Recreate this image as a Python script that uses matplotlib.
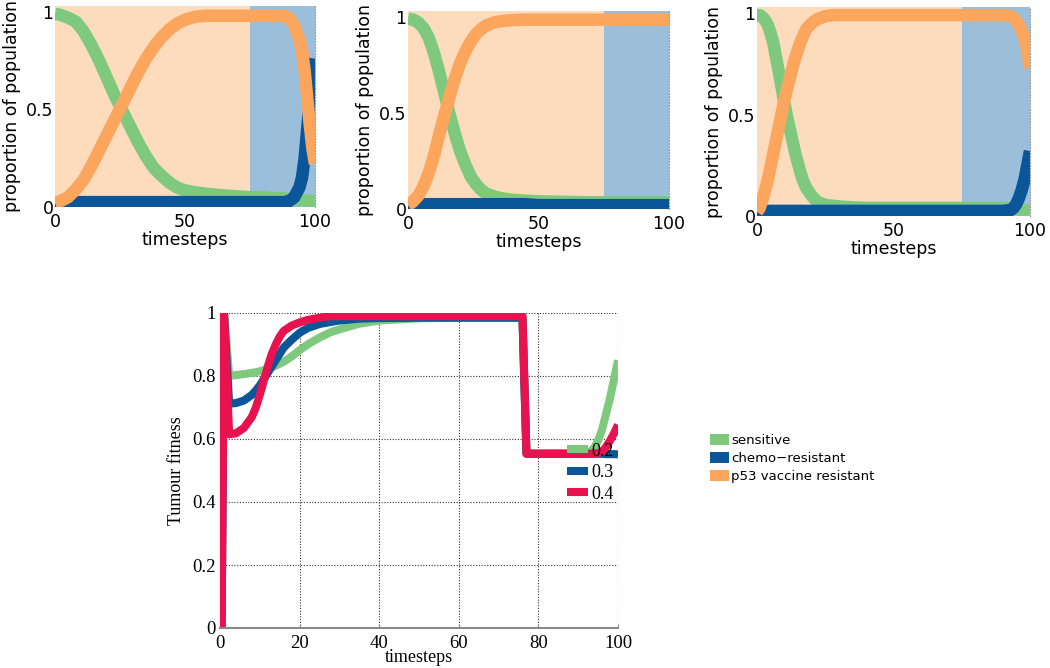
import matplotlib
matplotlib.use("Agg")
import matplotlib.pyplot as plt
from matplotlib.patches import Patch

# colours
c_sens = '#7fc97f'
c_chemo = '#0a5699'
c_p53 = '#fca55d'
c_bg1 = '#fcdcbd'
c_bg2 = '#9bbfdb'
c_04 = '#e8124f'

switch_t = 75  # treatment switch (background change)

# ---- top panel 1
t1 = [0, 2, 5, 8, 11, 14, 17, 20, 23, 26, 29, 32, 35, 38, 41, 44, 47, 50, 54, 58,
      62, 66, 70, 75, 80, 85, 88, 90, 92, 94, 95, 96, 97, 98, 99, 100]
sens1 = [0.99, 0.985, 0.97, 0.95, 0.90, 0.83, 0.75, 0.66, 0.57, 0.49, 0.41, 0.33,
         0.26, 0.20, 0.16, 0.125, 0.10, 0.085, 0.075, 0.068, 0.063, 0.058, 0.055,
         0.05, 0.05, 0.045, 0.045, 0.04, 0.04, 0.035, 0.035, 0.035, 0.03, 0.03,
         0.03, 0.03]
chemo1 = [0.0, 0.01, 0.02, 0.025, 0.025, 0.025, 0.025, 0.025, 0.025, 0.025, 0.025,
          0.025, 0.025, 0.025, 0.025, 0.025, 0.025, 0.025, 0.025, 0.025, 0.025,
          0.025, 0.025, 0.025, 0.025, 0.025, 0.025, 0.03, 0.05, 0.10, 0.15, 0.25,
          0.40, 0.55, 0.68, 0.76]
p53_1 = [0.02, 0.03, 0.05, 0.09, 0.14, 0.21, 0.29, 0.37, 0.45, 0.53, 0.61, 0.69,
         0.76, 0.82, 0.87, 0.91, 0.94, 0.96, 0.975, 0.98, 0.98, 0.98, 0.98, 0.98,
         0.98, 0.98, 0.98, 0.97, 0.93, 0.86, 0.80, 0.70, 0.56, 0.42, 0.30, 0.22]

# ---- top panel 2
t2 = [0, 2, 4, 6, 8, 10, 12, 14, 16, 18, 20, 22, 24, 26, 28, 30, 33, 36, 40, 45,
      50, 60, 70, 80, 90, 100]
sens2 = [0.99, 0.985, 0.97, 0.94, 0.89, 0.81, 0.71, 0.60, 0.49, 0.39, 0.30, 0.23,
         0.17, 0.13, 0.10, 0.08, 0.065, 0.055, 0.048, 0.043, 0.04, 0.037, 0.035,
         0.035, 0.035, 0.035]
chemo2 = [0.0, 0.01, 0.02, 0.025, 0.025, 0.025, 0.025, 0.025, 0.025, 0.025, 0.025,
          0.025, 0.025, 0.025, 0.025, 0.025, 0.025, 0.025, 0.025, 0.025, 0.02,
          0.02, 0.02, 0.02, 0.02, 0.02]
p53_2 = [0.02, 0.04, 0.07, 0.12, 0.19, 0.28, 0.39, 0.49, 0.59, 0.68, 0.76, 0.82,
         0.87, 0.91, 0.935, 0.955, 0.97, 0.978, 0.982, 0.985, 0.985, 0.985, 0.985,
         0.985, 0.985, 0.985]

# ---- top panel 3
t3 = [0, 1, 2, 3, 4, 5, 6, 7, 8, 9, 10, 11, 12, 13, 14, 15, 16, 17, 18, 20, 22,
      25, 28, 32, 40, 50, 60, 70, 80, 90, 93, 94, 95, 96, 97, 98, 99, 100]
sens3 = [0.99, 0.99, 0.98, 0.965, 0.94, 0.90, 0.85, 0.78, 0.71, 0.635, 0.56, 0.49,
         0.43, 0.37, 0.31, 0.26, 0.21, 0.17, 0.14, 0.10, 0.07, 0.055, 0.05, 0.045,
         0.04, 0.04, 0.04, 0.04, 0.04, 0.04, 0.04, 0.04, 0.035, 0.035, 0.03, 0.03,
         0.025, 0.02]
chemo3 = [0.0, 0.01, 0.015, 0.02, 0.025, 0.025, 0.025, 0.025, 0.025, 0.025, 0.025,
          0.025, 0.025, 0.025, 0.025, 0.025, 0.025, 0.025, 0.025, 0.025, 0.025,
          0.025, 0.025, 0.025, 0.025, 0.025, 0.025, 0.025, 0.025, 0.025, 0.03,
          0.04, 0.06, 0.09, 0.13, 0.18, 0.25, 0.32]
p53_3 = [0.02, 0.04, 0.08, 0.13, 0.18, 0.245, 0.31, 0.375, 0.44, 0.505, 0.57, 0.625,
         0.68, 0.73, 0.78, 0.82, 0.86, 0.89, 0.92, 0.95, 0.97, 0.985, 0.99, 0.99,
         0.99, 0.99, 0.99, 0.99, 0.99, 0.99, 0.985, 0.975, 0.96, 0.94, 0.91, 0.87,
         0.81, 0.73]

# ---- bottom panel: tumour fitness for three parameter values
tb = [0.4, 1.0, 2.3, 4, 6, 8, 9, 10, 11, 12, 13, 14, 15, 16, 18, 20, 22, 25, 28,
      30, 35, 40, 50, 60, 70, 76, 77, 85, 90, 92, 93, 94, 95, 96, 97, 98, 99, 100]
fit_02 = [0, 1, 0.80, 0.803, 0.806, 0.81, 0.812, 0.815, 0.819, 0.823, 0.828, 0.833,
          0.839, 0.845, 0.862, 0.882, 0.90, 0.922, 0.94, 0.948, 0.966, 0.976, 0.983,
          0.985, 0.985, 0.985, 0.555, 0.555, 0.555, 0.555, 0.558, 0.572, 0.595,
          0.63, 0.68, 0.73, 0.79, 0.85]
fit_03 = [0, 1, 0.712, 0.714, 0.722, 0.74, 0.754, 0.77, 0.79, 0.81, 0.83, 0.85,
          0.87, 0.89, 0.915, 0.937, 0.952, 0.965, 0.972, 0.976, 0.982, 0.984, 0.985,
          0.985, 0.985, 0.985, 0.553, 0.553, 0.553, 0.553, 0.553, 0.553, 0.553,
          0.553, 0.552, 0.552, 0.552, 0.551]
fit_04 = [0, 1, 0.615, 0.618, 0.635, 0.67, 0.70, 0.74, 0.785, 0.83, 0.87, 0.90,
          0.925, 0.943, 0.96, 0.97, 0.978, 0.985, 0.99, 0.99, 0.99, 0.99, 0.99, 0.99,
          0.99, 0.99, 0.553, 0.553, 0.553, 0.553, 0.553, 0.553, 0.555, 0.56, 0.575,
          0.595, 0.618, 0.645]

top_xticks = [0, 50, 100]
top_yticks = [0, 0.5, 1]
top_yticklabels = ['0', '0.5', '1']
bot_ticks_x = [0, 20, 40, 60, 80, 100]
bot_ticks_y = [0, 0.2, 0.4, 0.6, 0.8, 1]
bot_yticklabels = ['0', '0.2', '0.4', '0.6', '0.8', '1']
legend_names = ['sensitive', 'chemo\u2212resistant', 'p53 vaccine resistant']
fit_names = ['0.2', '0.3', '0.4']

W, H = 1050, 668
fig = plt.figure(figsize=(W / 100, H / 100), dpi=100)


def px_axes(x0, y0, x1, y1):
    # pixel box (top-left origin) -> figure axes
    return fig.add_axes([x0 / W, 1 - y1 / H, (x1 - x0) / W, (y1 - y0) / H])


def top_panel(box, t, sens, chemo, p53):
    ax = px_axes(*box)
    ax.axvspan(0, switch_t, color=c_bg1, lw=0)
    ax.axvspan(switch_t, 100, color=c_bg2, lw=0)
    kw = dict(lw=9, solid_capstyle='butt', solid_joinstyle='round')
    ax.plot(t, sens, color=c_sens, **kw)
    ax.plot(t, chemo, color=c_chemo, **kw)
    ax.plot(t, p53, color=c_p53, **kw)
    ax.set_xlim(0, 100)
    ax.set_ylim(0, 1.03)
    ax.set_xticks(top_xticks)
    ax.set_yticks(top_yticks)
    ax.set_yticklabels(top_yticklabels)
    for s in ['top', 'left', 'bottom']:
        ax.spines[s].set_visible(False)
    ax.spines['right'].set_linestyle(':')
    ax.spines['right'].set_color('#999999')
    ax.spines['right'].set_linewidth(0.8)
    ax.tick_params(length=0, labelsize=12.5, pad=4)
    ax.tick_params(axis='y', pad=1)
    ax.set_xlabel('timesteps', fontsize=12.5, labelpad=0)
    ax.set_ylabel('proportion of population', fontsize=12.5, labelpad=4)
    return ax


top_panel((55, 6, 315, 207), t1, sens1, chemo1, p53_1)
top_panel((408, 11, 669, 209), t2, sens2, chemo2, p53_2)
top_panel((757, 7, 1030, 216), t3, sens3, chemo3, p53_3)

handles = [Patch(facecolor=c, edgecolor='none') for c in [c_sens, c_chemo, c_p53]]
fig.legend(handles, legend_names, loc='upper left',
           bbox_to_anchor=(703 / W, 1 - 427 / H), frameon=False, fontsize=9.5,
           borderpad=0, handlelength=1.45, handleheight=0.9, handletextpad=0.2,
           labelspacing=0.38)

# ---- bottom panel
serif = 'Liberation Serif'
ax = px_axes(220, 313, 618, 628)
ax.set_axisbelow(True)
kw = dict(lw=5.8, solid_capstyle='butt', solid_joinstyle='round')
ax.plot(tb, fit_02, color=c_sens, label=fit_names[0], **kw)
ax.plot(tb, fit_03, color=c_chemo, label=fit_names[1], **kw)
ax.plot(tb, fit_04, color=c_04, label=fit_names[2], **kw)
ax.set_xlim(0, 100)
ax.set_ylim(0, 1)
ax.set_xticks(bot_ticks_x)
ax.set_yticks(bot_ticks_y)
ax.set_yticklabels(bot_yticklabels)
ax.grid(True, color='#333333', linestyle=(0, (1, 1.5)), lw=0.8)
for s in ['top', 'left', 'right']:
    ax.spines[s].set_visible(False)
ax.spines['bottom'].set_color('#888888')
ax.spines['bottom'].set_linewidth(1.5)
ax.tick_params(direction='in', length=3, color='#888888', labelsize=13.5)
ax.tick_params(axis='x', pad=5)
ax.tick_params(axis='y', pad=3)
for lab in ax.get_xticklabels() + ax.get_yticklabels():
    lab.set_fontfamily(serif)
ax.set_xlabel('timesteps', fontfamily=serif, fontsize=13, labelpad=-2)
ax.set_ylabel('Tumour fitness', fontfamily=serif, fontsize=13, labelpad=5)
ax.legend(loc='upper left', bbox_to_anchor=(0.872, 0.588), frameon=False,
          prop={'family': serif, 'size': 13}, borderpad=0, borderaxespad=0,
          handlelength=1.15, handletextpad=0.2, labelspacing=0.25)

fig.savefig('out.png', dpi=100)
